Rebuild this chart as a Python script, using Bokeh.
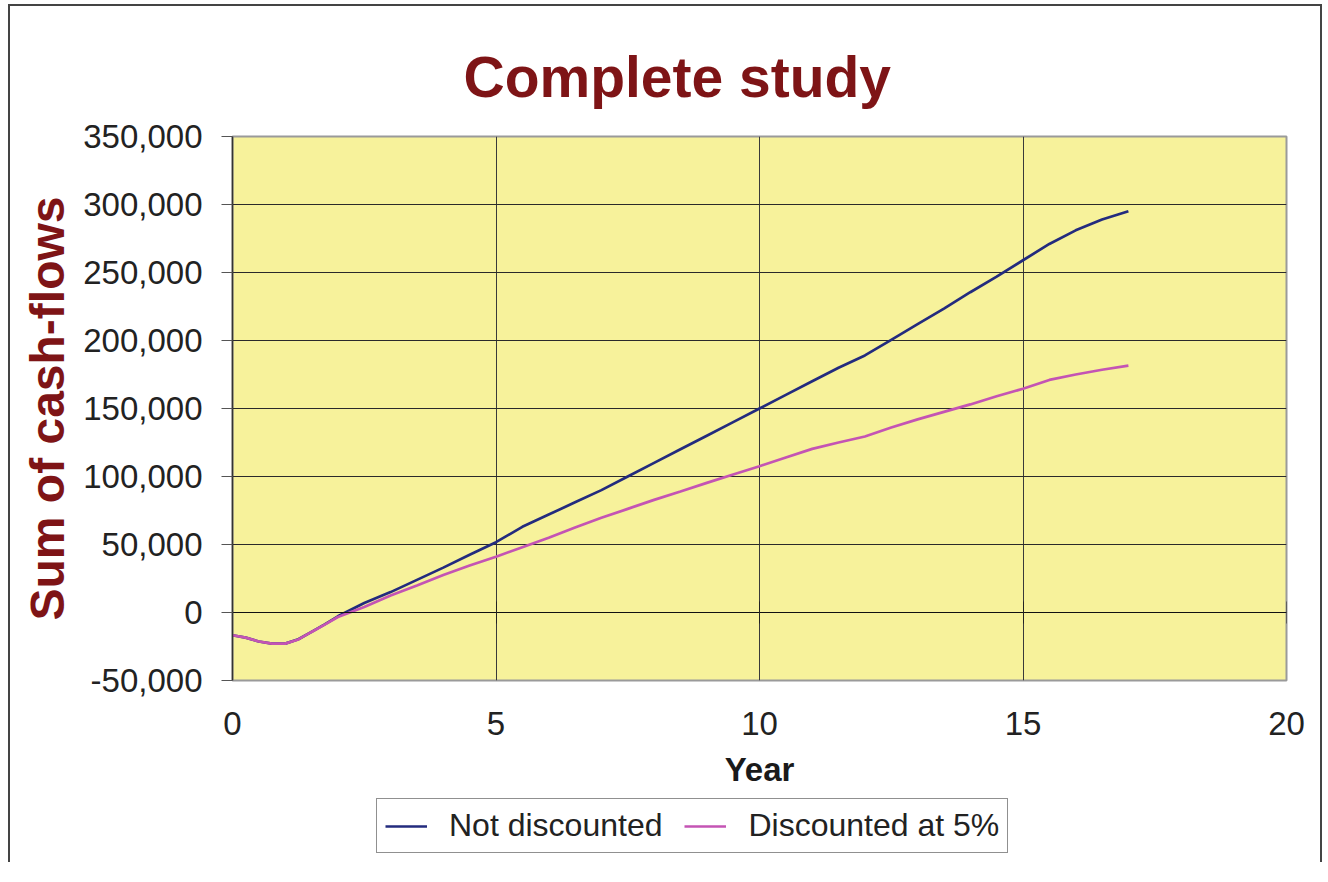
from bokeh.plotting import figure
from bokeh.layouts import column
from bokeh.models import Range1d, LinearAxis, FixedTicker, NumeralTickFormatter, Legend, LegendItem
from bokeh.embed import file_html
from bokeh.resources import INLINE

# ---- data ----
years = [0, 0.25, 0.5, 0.75, 1.0, 1.25, 1.5, 1.75, 2.0, 2.5, 3.0, 3.5, 4.0, 4.5, 5.0,
         5.5, 6.0, 6.5, 7.0, 7.5, 8.0, 8.5, 9.0, 9.5, 10.0, 10.5, 11.0, 11.5, 12.0,
         12.5, 13.0, 13.5, 14.0, 14.5, 15.0, 15.5, 16.0, 16.5, 17.0]
not_discounted = [-16700, -18500, -21300, -22900, -22900, -19700, -14200, -8700, -2800,
                  7000, 15000, 24000, 33000, 42500, 51700, 63000, 72000, 81000, 90000,
                  100000, 110000, 120000, 130000, 140000, 150000, 160000, 170000, 180000,
                  189000, 200500, 212000, 223500, 235500, 247000, 259000, 271000, 281000,
                  289000, 295000]
discounted_5 = [-16700, -18500, -21300, -22900, -22900, -19800, -14300, -8900, -3300,
                4000, 12500, 19800, 27500, 34500, 41000, 48000, 55000, 62500, 69600,
                76200, 82800, 89000, 95300, 101500, 107600, 114000, 120300, 125000,
                129400, 136000, 142000, 147500, 153000, 159000, 164500, 171000, 175000,
                178500, 181500]
x_ticks = [0, 5, 10, 15, 20]
y_ticks = [-50000, 0, 50000, 100000, 150000, 200000, 250000, 300000, 350000]
series_names = ["Not discounted", "Discounted at 5%"]

BLUE = "#232B7E"
PINK = "#C454B4"
DARKRED = "#7E1416"
FONT = "Liberation Sans"

p = figure(width=1310, height=784,
           x_range=Range1d(0, 20), y_range=Range1d(-50000, 350000),
           output_backend="svg", toolbar_location=None,
           min_border_left=222, min_border_right=34, min_border_top=130, min_border_bottom=110,
           background_fill_color="#F7F29B", border_fill_color="white",
           outline_line_color="#9a9a9a", outline_line_width=2)

# title
p.title.text = "Complete study"
p.title.text_font = FONT
p.title.text_font_size = "57px"
p.title.text_font_style = "bold"
p.title.text_color = DARKRED
p.title.align = "left"
p.title.offset = 231
p.title.standoff = 56

# grids
p.xgrid.ticker = FixedTicker(ticks=x_ticks)
p.ygrid.ticker = FixedTicker(ticks=y_ticks)
p.xgrid.grid_line_color = "#3a3a3a"
p.ygrid.grid_line_color = "#2a2a2a"
p.xgrid.grid_line_width = 1
p.ygrid.grid_line_width = 1

# bottom axis (labels only)
xa = p.below[0]
xa.ticker = FixedTicker(ticks=x_ticks)
xa.axis_line_color = None
xa.major_tick_in = 0
xa.major_tick_out = 0
xa.minor_tick_in = 0
xa.minor_tick_out = 0
xa.major_label_text_font = FONT
xa.major_label_text_font_size = "33px"
xa.major_label_text_color = "#222222"
xa.major_label_standoff = 31
xa.axis_label = "Year"
xa.axis_label_text_font = FONT
xa.axis_label_text_font_size = "33px"
xa.axis_label_text_font_style = "bold"
xa.axis_label_text_color = "#1a1a1a"
xa.axis_label_standoff = 13

# left axis
ya = p.left[0]
ya.ticker = FixedTicker(ticks=y_ticks)
ya.formatter = NumeralTickFormatter(format="0,0")
ya.axis_line_color = "#333333"
ya.axis_line_width = 1.5
ya.major_tick_in = 0
ya.major_tick_out = 11
ya.major_tick_line_color = "#555555"
ya.minor_tick_in = 0
ya.minor_tick_out = 0
ya.major_label_text_font = FONT
ya.major_label_text_font_size = "33px"
ya.major_label_text_color = "#222222"
ya.major_label_standoff = 19
ya.axis_label = "Sum of cash-flows"
ya.axis_label_text_font = FONT
ya.axis_label_text_font_size = "48px"
ya.axis_label_text_font_style = "bold"
ya.axis_label_text_color = DARKRED
ya.axis_label_standoff = 6

# zero-line axis with crossing ticks
zero_axis = LinearAxis(fixed_location=0, ticker=FixedTicker(ticks=x_ticks),
                       axis_line_color="#111111", axis_line_width=1.2,
                       major_tick_in=11, major_tick_out=11, major_tick_line_color="#222222",
                       minor_tick_in=0, minor_tick_out=0,
                       major_label_text_alpha=0, major_label_text_font_size="1px",
                       major_label_standoff=0)
p.add_layout(zero_axis, "above")

r1 = p.line(years, not_discounted, line_color=BLUE, line_width=2.7)
r2 = p.line(years, discounted_5, line_color=PINK, line_width=2.7)

# legend strip below the chart (same series, drawn off-range so only the legend shows)
p2 = figure(width=1310, height=72, x_range=Range1d(0, 1), y_range=Range1d(1e7, 1e7 + 1),
            output_backend="svg", toolbar_location=None, title=None,
            x_axis_location=None, y_axis_location=None, min_border=0,
            outline_line_color=None, background_fill_color="white", border_fill_color="white")
p2.grid.visible = False
g1 = p2.line(years, not_discounted, line_color=BLUE, line_width=2.7)
g2 = p2.line(years, discounted_5, line_color=PINK, line_width=2.7)

legend = Legend(items=[LegendItem(label=series_names[0], renderers=[g1]),
                       LegendItem(label=series_names[1], renderers=[g2])],
                orientation="horizontal", location=(144, 9),
                label_text_font=FONT, label_text_font_size="32px", label_text_color="#222222",
                glyph_width=42, label_standoff=22, spacing=22, padding=8, margin=0,
                border_line_color="#222222", border_line_width=1.5,
                background_fill_color="white", background_fill_alpha=1)
p2.add_layout(legend, "center")

layout = column(p, p2, spacing=0,
                styles={"margin-left": "8px", "margin-top": "4px",
                        "border-top": "2px solid #444", "border-left": "2px solid #444",
                        "border-right": "2px solid #444"})

open("out.html", "w").write(file_html(layout, INLINE))
